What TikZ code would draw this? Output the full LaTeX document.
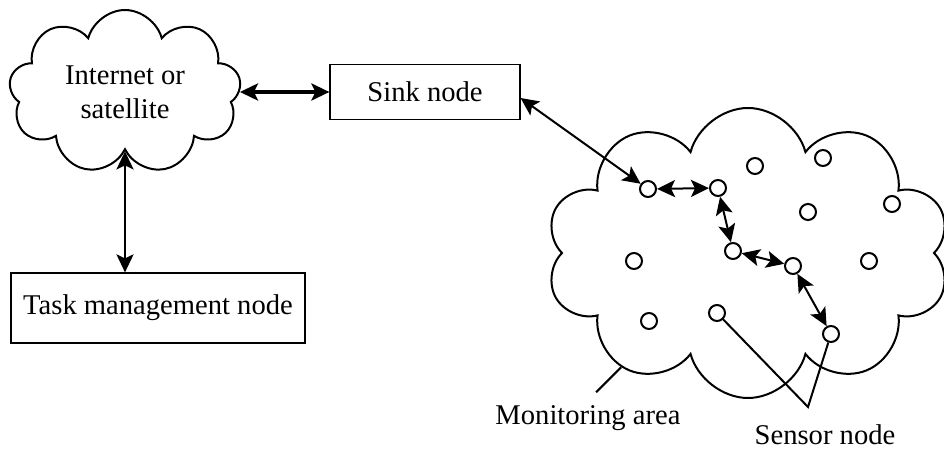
\documentclass[tikz,border=0pt]{standalone}
\usepackage{fontspec}
\setmainfont{Liberation Serif}
\usetikzlibrary{shapes.symbols,arrows.meta}

\begin{document}
\begin{tikzpicture}[x=0.5pt,y=0.5pt,
    font=\fontsize{14.3}{17}\selectfont,
    box/.style={draw,line width=0.6pt,inner sep=0pt},
    puff/.style={draw,cloud,cloud ignores aspect,line width=1pt,inner sep=0pt},
    sensor/.style={draw,circle,line width=1pt,minimum size=8pt,inner sep=0pt,fill=white},
    link/.style={line width=1pt,{Stealth[length=9pt,width=8.5pt,inset=2pt]}-{Stealth[length=9pt,width=8.5pt,inset=2pt]}}]
                \useasboundingbox (0,0) rectangle (944,450);
                % Clouds first, so the sensors sit on top
                \node[puff,cloud puffs=9,minimum width=116pt,minimum height=82pt,align=center] (inet) at (125,358) {Internet or\\satellite};
                \node[puff,cloud puffs=10,minimum width=202pt,minimum height=145pt] (area) at (748,197) {};
                % Boxes
                \node[box,minimum width=95pt,minimum height=27.5pt] (sink) at (425,358) {Sink node};
                \node[box,minimum width=147pt,minimum height=35pt] (task) at (158,142) {Task management node};
                % Sensors in the monitoring area
                \foreach \name/\x/\y in {s1/648/261, s2/718/262, s3/755/284, s4/823/292, s5/808/238,
                                         s6/892/246, s7/733/199, s8/793/184, s9/869/189, s10/634/189,
                                         s11/649/129, s12/717/137, s13/831/116}
                    \node[sensor] (\name) at (\x,\y) {};
                % Links
                \draw[link,line width=1.8pt] (inet.east) -- (sink.west);
                \draw[link,line width=1.3pt] (inet.south) -- (inet.south |- task.north);
                \draw[link] ([yshift=-3pt]sink.east) -- (s1);
                \draw[link] (s1) -- (s2);
                \draw[link] (s2) -- (s7);
                \draw[link] (s7) -- (s8);
                \draw[link] (s8) -- (s13);
                % Labels with their leader lines
                \coordinate (tip) at (808,43);
                \node (sensorlbl) at (825,15) {Sensor node};
                \node (arealbl) at (588,32) {Monitoring area};
                \draw[line width=1pt] (s12) -- (tip) -- (s13);
                \draw[line width=1pt] (area.222) -- ++(-25,-25);
            \end{tikzpicture}
\end{document}
